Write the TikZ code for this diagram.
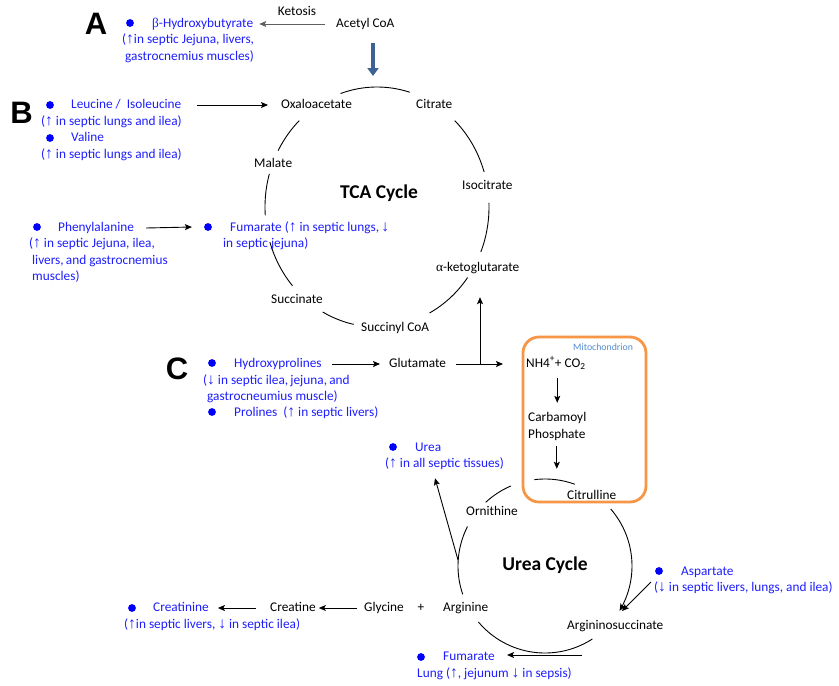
\documentclass[tikz,border=0pt]{standalone}
\usepackage{fontspec}
\setmainfont{Carlito}
\newfontfamily\arrf{Liberation Sans}
\newfontfamily\grf{Liberation Serif}
\newfontfamily\bigf{Liberation Sans}
\usetikzlibrary{arrows.meta}
\definecolor{tblue}{RGB}{30,30,255}
\definecolor{bblue}{RGB}{0,0,255}
\definecolor{mitoorange}{RGB}{247,150,70}
\definecolor{mitoblue}{RGB}{84,141,212}
\definecolor{ketgray}{RGB}{95,95,95}
\definecolor{bigarrow}{RGB}{62,99,146}
\newcommand\myup{{\arrf\fontsize{15.5}{16}\selectfont ↑}}
\newcommand\mydn{{\arrf\fontsize{15.5}{16}\selectfont ↓}}
\newcommand\fs{\fontsize{13.3}{16}\selectfont}
\begin{document}
\begin{tikzpicture}[x=1pt,y=-1pt,
 lab/.style={font=\fs, inner sep=0pt, text height=9pt, text depth=3pt, anchor=west},
 blu/.style={lab, text=tblue},
 bdot/.style={circle, fill=bblue, inner sep=0pt, minimum size=7.8pt},
 letter/.style={font=\bigf\bfseries\fontsize{31}{31}\selectfont, inner sep=0pt},
 cyclab/.style={font=\bfseries\fontsize{19.5}{20}\selectfont, inner sep=0pt},
 arr/.style={-{Stealth[length=7pt,width=6pt,inset=1.5pt]}, line width=0.9pt},
 cyc/.style={line width=0.9pt},
 mitobox/.style={draw=mitoorange, line width=2.8pt, rounded corners=16pt},
]
\fill[white] (0,0) rectangle (839,686);
\useasboundingbox (0,0) rectangle (839,686);

% ---------- A ----------
\node[letter] (A) at (96,24) {A};
\node[bdot] (dA) at (130,23) {};
\node[blu] (bhb1) at (152,24) {{\grf β}-Hydroxybutyrate};
\node[blu] (bhb2) at (122,40) {(\myup in septic Jejuna, livers,};
\node[blu] (bhb3) at (125,57) {gastrocnemius muscles)};
\node[lab] (acoa) at (336,24) {Acetyl CoA};
\node[lab, anchor=center] (ket) at (297,12) {Ketosis};
\draw[arr, ketgray] ([xshift=-11pt]acoa.west) -- ([xshift=6pt]bhb1.east);
\coordinate (bigA) at (373,43);
\coordinate (bigB) at (373,76);
\draw[line width=4.8pt, bigarrow, -{Triangle[length=8pt,width=11pt]}] (bigA) -- (bigB);

% ---------- B ----------
\node[letter] (B) at (21.5,113) {B};
\node[bdot] (d1) at (50,105) {};
\node[blu] (leu1) at (71,105) {Leucine /\ \ Isoleucine};
\node[blu] (leu2) at (41,122) {(\myup\ in septic lungs and ilea)};
\node[bdot] (d2) at (50,138) {};
\node[blu] (val1) at (71,138) {Valine};
\node[blu] (val2) at (41,155) {(\myup\ in septic lungs and ilea)};
\node[lab] (oxa) at (281,105) {Oxaloacetate};
\draw[arr] ([xshift=15pt]leu1.east) -- ([xshift=-13pt]oxa.west);

\node[lab] (cit) at (416,105) {Citrate};
\node[lab] (mal) at (254,164) {Malate};
\node[lab] (iso) at (462,186) {Isocitrate};
\node[cyclab] (tca) at (379,193) {TCA Cycle};
\node[lab] (akg) at (436,268) {{\grf α}-ketoglutarate};
\node[lab] (scoa) at (361,328) {Succinyl CoA};
\node[lab] (succ) at (271,300) {Succinate};

% TCA cycle arcs
\foreach \a/\b in {-109/-73, -46/-17, -2/22, 36/62, 102/119, 139/163, 176/196, 208/226}
  \draw[cyc] plot[domain=\a:\b, samples=25, smooth] ({377+112*cos(\x)},{207+120*sin(\x)});

% Phenylalanine / Fumarate
\node[bdot] (d3) at (37,227) {};
\node[blu] (phe1) at (58,228) {Phenylalanine};
\node[blu] (phe2) at (29,244) {(\myup\ in septic Jejuna, ilea,};
\node[blu] (phe3) at (32,261) {livers,\,and gastrocnemius};
\node[blu] (phe4) at (32,277) {muscles)};
\node[bdot] (d4) at (208,227) {};
\node[blu] (fum1) at (230,228) {Fumarate (\myup\ in septic lungs,\,\mydn};
\node[blu] (fum2) at (223,244) {in septic jejuna)};
\draw[arr] ([xshift=12pt]phe1.east) -- ([xshift=-12pt]d4.west);

% ---------- C ----------
\node[letter] (C) at (177,369) {C};
\node[bdot] (d5) at (212,363) {};
\node[blu] (hyp1) at (234,364) {Hydroxyprolines};
\node[blu] (hyp2) at (203,381) {(\mydn\ in septic ilea,\,jejuna,\,and};
\node[blu] (hyp3) at (207,397) {gastrocneumius muscle)};
\node[bdot] (d6) at (212,412) {};
\node[blu] (pro) at (234,413) {Prolines\ \ (\myup\ in septic livers)};
\node[lab] (glu) at (389,364) {Glutamate};
\draw[arr] ([xshift=10pt]hyp1.east) -- ([xshift=-9pt]glu.west);

% Mitochondrion
\node[mitobox, minimum width=123pt, minimum height=165pt] (mito) at (584.5,419.5) {};
\node[font=\fontsize{9.8}{10}\selectfont, text=mitoblue, inner sep=0pt, anchor=west] (mitol) at (573,347) {Mitochondrion};
\node[lab] (nh4) at (526,364) {NH4\textsuperscript{+}+ CO\textsubscript{2}};
\draw[arr] ([xshift=10pt]glu.east) -- ([xshift=-23pt]nh4.west);
\coordinate (jn) at (480,364);
\draw[arr] (jn) -- ([yshift=-23pt]jn |- akg.south);
\node[lab] (carb1) at (528,418) {Carbamoyl};
\node[lab] (carb2) at (528,435) {Phosphate};
\node[lab] (citr) at (567,496) {Citrulline};
\draw[arr] ([yshift=-8pt]carb1.north |- nh4.south) -- ([yshift=9pt]carb1.north);
\draw[arr] ([yshift=-5pt]carb2.south) -- ([yshift=21pt]carb2.south |- citr.north);

% ---------- Urea cycle ----------
\node[bdot] (d7) at (393,447) {};
\node[blu] (urea1) at (415,448) {Urea};
\node[blu] (urea2) at (385,464) {(\myup\ in all septic tissues)};
\node[lab] (orn) at (466,512) {Ornithine};
\node[cyclab] (ucyc) at (545,565) {Urea Cycle};
\node[bdot] (d8) at (659,571) {};
\node[blu] (asp1) at (681,572) {Aspartate};
\node[blu] (asp2) at (654,588) {(\mydn\ in septic livers, lungs, and ilea)};
\node[lab] (asuc) at (567,626) {Argininosuccinate};
\node[lab] (arg) at (443,608) {Arginine};
\node[lab, anchor=center] (plus) at (421,608) {+};
\node[lab] (gly) at (364,608) {Glycine};
\node[lab] (cre) at (270,608) {Creatine};
\node[bdot] (d9) at (132,608) {};
\node[blu] (crn1) at (153,608) {Creatinine};
\node[blu] (crn2) at (124,625) {(\myup in septic livers, \mydn\ in septic ilea)};
\draw[arr] ([xshift=-7pt]gly.west) -- ([xshift=3pt]cre.east);
\draw[arr] ([xshift=-14pt]cre.west) -- ([xshift=9pt]crn1.east);
\node[bdot] (d10) at (421,657) {};
\node[blu] (fumb1) at (443,657) {Fumarate};
\node[blu] (fumb2) at (417,674) {Lung (\myup, jejunum \mydn\ in sepsis)};

% urea arcs
\foreach \a/\b in {227/247, 263/290, 57/140, 161/207}
  \draw[cyc] plot[domain=\a:\b, samples=25, smooth] ({545+87*cos(\x)},{566+87*sin(\x)});
\draw[arr] plot[domain=-41:31, samples=40, smooth] ({545+87*cos(\x)},{566+87*sin(\x)});

\coordinate (ucl) at (458,560);
\draw[arr] (ucl) -- ([xshift=50pt,yshift=-8pt]urea2.south west);
\coordinate (aspS) at (651,582);
\coordinate (aspT) at (622,611);
\draw[arr] (aspS) -- (aspT);
\coordinate (fumS) at (582,655);
\draw[arr] (fumS) -- ([xshift=12pt]fumb1.east |- fumS);
\end{tikzpicture}
\end{document}
